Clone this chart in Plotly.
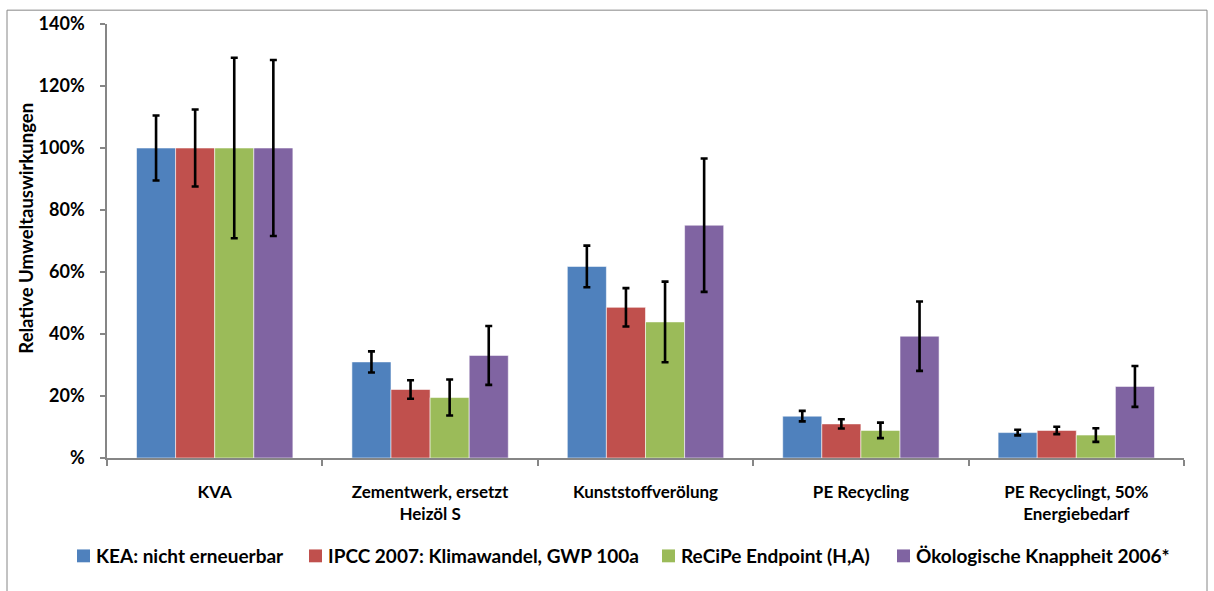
import plotly.graph_objects as go

categories = ["KVA", "Zementwerk, ersetzt<br>Heizöl S", "Kunststoffverölung",
              "PE Recycling", "PE Recyclingt, 50%<br>Energiebedarf"]

series_names = ["KEA: nicht erneuerbar", "IPCC 2007: Klimawandel, GWP 100a",
                "ReCiPe Endpoint (H,A)", "Ökologische Knappheit 2006*"]

kea = [100, 31.0, 61.8, 13.5, 8.2]
ipcc = [100, 22.1, 48.6, 11.0, 8.9]
recipe = [100, 19.5, 43.9, 8.9, 7.4]
oek = [100, 33.1, 75.1, 39.3, 23.1]

kea_err = [10.5, 3.4, 6.7, 1.7, 0.9]
ipcc_err = [12.4, 3.0, 6.2, 1.5, 1.2]
recipe_err = [29.1, 5.8, 13.0, 2.5, 2.2]
oek_err = [28.4, 9.5, 21.5, 11.2, 6.6]

colors = ["#4F81BD", "#C0504D", "#9BBB59", "#8064A2"]

tick_vals = [0, 20, 40, 60, 80, 100, 120, 140]
tick_text = ["%", "20%", "40%", "60%", "80%", "100%", "120%", "140%"]

FONT = "Lato"

fig = go.Figure()
for name, vals, errs, col in zip(series_names, [kea, ipcc, recipe, oek],
                                 [kea_err, ipcc_err, recipe_err, oek_err], colors):
    fig.add_trace(go.Bar(
        x=categories, y=vals, name=name, showlegend=False,
        marker=dict(color=col, line=dict(color="rgba(255,255,255,0.55)", width=1)),
        error_y=dict(type="data", array=errs, visible=True, color="black",
                     thickness=2.6, width=3.5),
    ))

W, H = 1214, 591
L, R, T, B = 107, 30, 19, 133
pw, ph = W - L - R, H - T - B

def px_x(x):
    return (x - L) / pw

def px_y(y):
    return (H - B - y) / ph

# legend layout (pixel positions of marker squares)
legend_marker_x = [77, 309, 662, 897]
legend_y = 557
shapes = [dict(type="rect", xref="paper", yref="paper",
               x0=px_x(7), x1=px_x(1207), y0=px_y(700), y1=px_y(5),
               line=dict(color="#868686", width=1), fillcolor="rgba(0,0,0,0)",
               layer="below")]
annotations = [dict(text="Relative Umweltauswirkungen", textangle=-90,
                    xref="paper", yref="paper", x=px_x(26), y=px_y(226),
                    xanchor="center", yanchor="middle", showarrow=False,
                    font=dict(family=FONT, size=18.5, color="black", weight="bold"))]
for mx, name, col in zip(legend_marker_x, series_names, colors):
    shapes.append(dict(type="rect", xref="paper", yref="paper",
                       x0=px_x(mx), x1=px_x(mx + 13),
                       y0=px_y(legend_y + 6.5), y1=px_y(legend_y - 6.5),
                       line=dict(width=0), fillcolor=col))
    annotations.append(dict(text=name, xref="paper", yref="paper",
                            x=px_x(mx + 17), y=px_y(legend_y),
                            xanchor="left", yanchor="middle", showarrow=False,
                            font=dict(family=FONT, size=19, color="black", weight="bold")))

fig.update_layout(
    width=W, height=H, autosize=False,
    margin=dict(l=L, r=R, t=T, b=B, pad=0),
    paper_bgcolor="white", plot_bgcolor="white",
    barmode="group", bargap=0.274, bargroupgap=0,
    font=dict(family=FONT, color="black"),
    showlegend=False,
    xaxis=dict(showline=True, linecolor="#868686", linewidth=1.5,
               ticks="outside", tickson="boundaries", ticklen=6, tickcolor="#868686",
               tickwidth=1.5, showgrid=False, zeroline=False,
               tickfont=dict(family=FONT, size=17, color="black", weight="bold"),
               ticklabelstandoff=18),
    yaxis=dict(range=[0, 140], tickvals=tick_vals, ticktext=tick_text,
               showline=True, linecolor="#868686", linewidth=1.5,
               ticks="outside", ticklen=5, tickcolor="#868686", tickwidth=1.5,
               showgrid=False, zeroline=False,
               tickfont=dict(family=FONT, size=18, color="black", weight="bold"),
               ticklabelstandoff=12),
    annotations=annotations,
    shapes=shapes,
)

fig.write_html("out.html", config={"displayModeBar": False},
               post_script="document.body.style.margin='0';")
